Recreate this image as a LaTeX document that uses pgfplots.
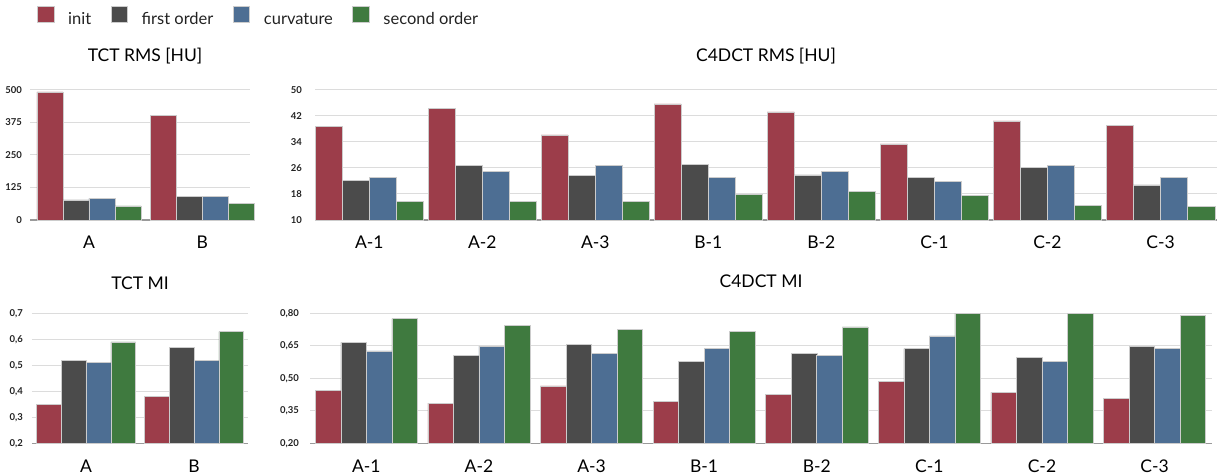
\documentclass[border=0pt]{standalone}
\usepackage{fontspec}
\setmainfont{Lato}
\usepackage{pgfplots}
\pgfplotsset{compat=1.18}

\definecolor{cinit}{HTML}{9C3D4A}
\definecolor{cfirst}{HTML}{4B4B4B}
\definecolor{ccurv}{HTML}{4D6E93}
\definecolor{csecond}{HTML}{3F7A3F}
\definecolor{gridc}{HTML}{DCDCDC}
\definecolor{axc}{HTML}{9A9A9A}
\definecolor{txt}{HTML}{222222}

\pgfplotsset{
  panel/.style={
    scale only axis,
    height=130pt,
    ybar,
    clip=false,
    axis x line*=bottom,
    axis y line*=left,
    y axis line style={draw=none},
    x axis line style={draw=axc, line width=1.6pt, -},
    ymajorgrids,
    grid style={draw=gridc, line width=1pt},
    major tick length=0pt,
    xtick style={draw=none},
    ytick style={draw=none},
    xticklabel style={font=\fontsize{17.5}{20}\selectfont, text=black, anchor=base, yshift=-29pt},
    yticklabel style={font=\fontsize{9.5}{11}\selectfont\bfseries, text=txt, anchor=east, inner sep=0pt},
    every axis title/.style={at={(0.5,1)}, anchor=base, yshift=28pt, font=\fontsize{17.5}{20}\selectfont, text=black},
    legend image code/.code={\fill[##1] (0pt,-2.3pt) rectangle (16.5pt,13.7pt);},
  },
  b1/.style={fill=cinit, draw=white!80!black, line width=0.5pt},
  b2/.style={fill=cfirst, draw=white!80!black, line width=0.5pt},
  b3/.style={fill=ccurv, draw=white!80!black, line width=0.5pt},
  b4/.style={fill=csecond, draw=white!80!black, line width=0.5pt},
}

% TCT RMS [HU]
\pgfplotstableread{
x init first curv second
0 493 77 83 54
1 401 90 90 64
}\tctrms

% C4DCT RMS [HU]
\pgfplotstableread{
x init first curv second
0 38.7 22.1 23.0 15.8
1 44.4 26.7 25.0 15.8
2 36.2 23.7 26.9 15.8
3 45.7 27.1 23.0 17.9
4 43.3 23.9 24.9 18.7
5 33.4 23.2 21.9 17.5
6 40.5 26.1 26.9 14.4
7 39.0 20.8 23.0 14.2
}\cdrms

% TCT MI
\pgfplotstableread{
x init first curv second
0 0.35 0.52 0.51 0.59
1 0.38 0.57 0.52 0.63
}\tctmi

% C4DCT MI
\pgfplotstableread{
x init first curv second
0 0.446 0.666 0.627 0.775
1 0.386 0.605 0.648 0.746
2 0.465 0.657 0.615 0.725
3 0.395 0.577 0.637 0.717
4 0.425 0.615 0.605 0.737
5 0.487 0.637 0.696 0.800
6 0.435 0.595 0.577 0.800
7 0.407 0.648 0.637 0.790
}\cdmi

\begin{document}
\begin{tikzpicture}
\useasboundingbox (0pt,0pt) rectangle (1223pt,474pt);

% ---------- TCT RMS ----------
\begin{axis}[panel,
  at={(30pt,254pt)}, anchor=south west,
  width=220pt,
  xmin=-0.52, xmax=1.42,
  ymin=0, ymax=500,
  bar width=0.23,
  xtick={0,1}, xticklabels={A,B},
  ytick={0,125,250,375,500},
  yticklabels={0,125,250,375,500},
  yticklabel style={xshift=-8pt},
  title={TCT RMS [HU]},
  title style={xshift=5pt},
  legend columns=4,
  legend style={draw=none, fill=none, inner sep=0pt,
    at={(axis description cs:0.0318,1.569)}, anchor=west,
    font=\fontsize{16.5}{19}\selectfont, text=txt,
    nodes={inner sep=0pt},
    /tikz/every odd column/.append style={column sep=14pt},
    /tikz/every even column/.append style={column sep=19.5pt}},
  legend cell align=left,
]
\addplot[b1, bar shift=-0.345] table[x=x,y=init] {\tctrms};
\addplot[b2, bar shift=-0.115] table[x=x,y=first] {\tctrms};
\addplot[b3, bar shift=0.115] table[x=x,y=curv] {\tctrms};
\addplot[b4, bar shift=0.345] table[x=x,y=second] {\tctrms};
\legend{init,first order,curvature,second order}
\end{axis}

% ---------- C4DCT RMS ----------
\begin{axis}[panel,
  at={(315pt,254pt)}, anchor=south west,
  width=902pt,
  xmin=-0.48, xmax=7.5,
  ymin=10, ymax=50,
  bar width=0.24,
  xtick={0,...,7}, xticklabels={A-1,A-2,A-3,B-1,B-2,C-1,C-2,C-3},
  ytick={10,18,26,34,42,50},
  yticklabels={10,18,26,34,42,50},
  yticklabel style={xshift=-13pt},
  title={C4DCT RMS [HU]},
]
\addplot[b1, bar shift=-0.36] table[x=x,y=init] {\cdrms};
\addplot[b2, bar shift=-0.12] table[x=x,y=first] {\cdrms};
\addplot[b3, bar shift=0.12] table[x=x,y=curv] {\cdrms};
\addplot[b4, bar shift=0.36] table[x=x,y=second] {\cdrms};
\end{axis}

% ---------- TCT MI ----------
\begin{axis}[panel,
  at={(32pt,30.7pt)}, anchor=south west,
  width=216pt,
  xmin=-0.5, xmax=1.5,
  ymin=0.2, ymax=0.7,
  bar width=0.23,
  xtick={0,1}, xticklabels={A,B},
  ytick={0.2,0.3,0.4,0.5,0.6,0.7},
  yticklabels={{0,2},{0,3},{0,4},{0,5},{0,6},{0,7}},
  yticklabel style={xshift=-9pt},
  title={TCT MI},
  every axis title/.append style={yshift=-4pt},
]
\addplot[b1, bar shift=-0.345] table[x=x,y=init] {\tctmi};
\addplot[b2, bar shift=-0.115] table[x=x,y=first] {\tctmi};
\addplot[b3, bar shift=0.115] table[x=x,y=curv] {\tctmi};
\addplot[b4, bar shift=0.345] table[x=x,y=second] {\tctmi};
\end{axis}

% ---------- C4DCT MI ----------
\begin{axis}[panel,
  at={(310pt,30.7pt)}, anchor=south west,
  width=902pt,
  xmin=-0.5, xmax=7.51,
  ymin=0.2, ymax=0.8,
  bar width=0.227,
  xtick={0,...,7}, xticklabels={A-1,A-2,A-3,B-1,B-2,C-1,C-2,C-3},
  ytick={0.2,0.35,0.5,0.65,0.8},
  yticklabels={{0,20},{0,35},{0,50},{0,65},{0,80}},
  yticklabel style={xshift=-11pt},
  title={C4DCT MI},
  every axis title/.append style={yshift=-2pt},
]
\addplot[b1, bar shift=-0.34] table[x=x,y=init] {\cdmi};
\addplot[b2, bar shift=-0.113] table[x=x,y=first] {\cdmi};
\addplot[b3, bar shift=0.113] table[x=x,y=curv] {\cdmi};
\addplot[b4, bar shift=0.34] table[x=x,y=second] {\cdmi};
\end{axis}
\end{tikzpicture}
\end{document}
